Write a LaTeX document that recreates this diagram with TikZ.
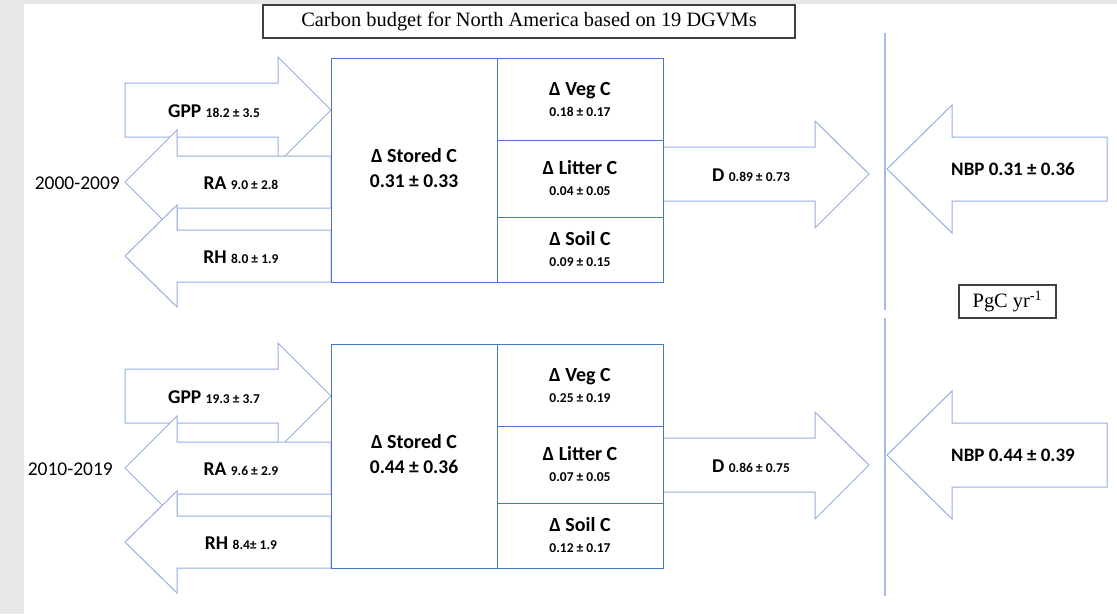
\documentclass[tikz,border=0pt]{standalone}
\usepackage{fontspec}
\setmainfont{Carlito}
\newfontfamily\serifface{Liberation Serif}
\usetikzlibrary{positioning}
\definecolor{pagegray}{RGB}{230,231,230}
\definecolor{boxblue}{RGB}{72,116,200}
\definecolor{arrowblue}{RGB}{150,175,225}
\definecolor{sepblue}{RGB}{165,188,232}
\newcommand{\smallval}[1]{{\fontsize{13.5}{15}\selectfont #1}}

\begin{document}
\begin{tikzpicture}[x=1pt, y=-1pt,
    flow/.style={draw=arrowblue, fill=white, line width=1pt, line join=miter},
    pool/.style={draw=boxblue, fill=white, line width=1pt, inner sep=0pt, outer sep=0pt,
      minimum width=166, align=center, font=\fontsize{20}{21}\selectfont\bfseries},
    lab/.style={font=\fontsize{19.5}{20}\selectfont\bfseries, inner sep=0pt},
    yrs/.style={font=\fontsize{19.5}{20}\selectfont, inner sep=0pt},
    tag/.style={draw=black!75, line width=1.3pt, inner sep=0pt,
      font=\serifface\fontsize{20.4}{24}\selectfont},
    sep/.style={draw=sepblue, line width=2pt}
  ]
  \useasboundingbox (0,0) rectangle (1117,614);
  \fill[pagegray] (0,0) rectangle (1117,614);
  \fill[white] (24,4) rectangle (1117,614);

  % title and units
  \node[tag, minimum width=532, minimum height=33] (title) at (529,21.5)
    {Carbon budget for North America based on 19 DGVMs};
  \node[tag, minimum width=97, minimum height=33] (unit) at (1007.5,301.5)
    {PgC yr\textsuperscript{-1}};

  % separator between land fluxes and NBP
  \coordinate (sepA) at (885,33);
  \coordinate (sepB) at (885,310);
  \coordinate (sepC) at (885,318);
  \coordinate (sepD) at (885,596);
  \draw[sep] (sepA) -- (sepB);
  \draw[sep] (sepC) -- (sepD);

  % one block per decade
  \foreach \i/\dy/\dd/\yx/\yrs/\gpp/\ra/\rh/\st/\veg/\lit/\soil/\dv/\nbp in {
      1/0/0/120/2000-2009/18.2 ± 3.5/9.0 ± 2.8/8.0 ± 1.9/0.31 ± 0.33/0.18 ± 0.17/0.04 ± 0.05/0.09 ± 0.15/0.89 ± 0.73/0.31 ± 0.36,
      2/286/291/113/2010-2019/19.3 ± 3.7/9.6 ± 2.9/8.4± 1.9/0.44 ± 0.36/0.25 ± 0.19/0.07 ± 0.05/0.12 ± 0.17/0.86 ± 0.75/0.44 ± 0.39}
  {
    % GPP in, RA and RH out
    \draw[flow] (125,83+\dy) -- (278,83+\dy) -- (278,57+\dy) -- (331,110+\dy)
      -- (278,163+\dy) -- (278,137+\dy) -- (125,137+\dy) -- cycle;
    \draw[flow] (331,156+\dy) -- (177,156+\dy) -- (177,130+\dy) -- (125,182+\dy)
      -- (177,234+\dy) -- (177,208+\dy) -- (331,208+\dy) -- cycle;
    \draw[flow] (331,230+\dy) -- (177,230+\dy) -- (177,205+\dy) -- (125,256+\dy)
      -- (177,307+\dy) -- (177,282+\dy) -- (331,282+\dy) -- cycle;
    % disturbance out, NBP in
    \draw[flow] (663,147+\dd) -- (815,147+\dd) -- (815,121+\dd) -- (869,174+\dd)
      -- (815,228+\dd) -- (815,201+\dd) -- (663,201+\dd) -- cycle;
    \draw[flow] (887,169+\dy) -- (952,105+\dy) -- (952,137+\dy) -- (1107,137+\dy)
      -- (1107,201+\dy) -- (952,201+\dy) -- (952,233+\dy) -- cycle;

    % pools
    \node[pool, minimum height=224] (st\i) at (414,170+\dy)
      {Δ Stored C\\[4pt]{\fontsize{19.5}{20}\selectfont\st}\\[-16pt]};
    \node[pool, minimum height=82, anchor=north west] (veg\i) at (st\i.north east)
      {Δ Veg C\\\smallval{\veg}};
    \node[pool, minimum height=77, below=0pt of veg\i] (lit\i) {Δ Litter C\\\smallval{\lit}};
    \node[pool, minimum height=65, below=0pt of lit\i] (soil\i) {Δ Soil C\\\smallval{\soil}};

    % flux labels
    \node[yrs, anchor=east] (yr\i) at (\yx,183+\dy) {\yrs};
    \node[lab] (gppL\i) at (214,111+\dy) {GPP \smallval{\gpp}};
    \node[lab] (raL\i) at (241,183+\dy) {RA \smallval{\ra}};
    \node[lab] (rhL\i) at (241,257+\dy) {RH \smallval{\rh}};
    \node[lab] (dL\i) at (751,175+\dd) {D \smallval{\dv}};
    \node[lab, font=\fontsize{19}{20}\selectfont\bfseries] (nbpL\i) at (1013,169+\dy) {NBP \nbp};
  }
\end{tikzpicture}
\end{document}
